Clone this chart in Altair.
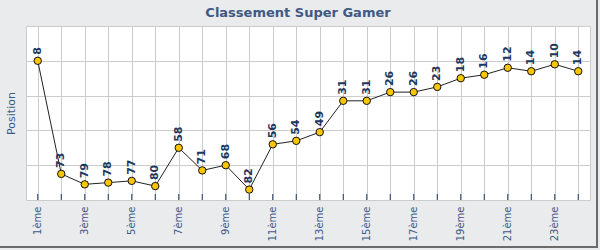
import json
import altair as alt
import pandas as pd

ranks = [f"{i}ème" for i in range(1, 25)]
positions = [8, 73, 79, 78, 77, 80, 58, 71, 68, 82, 56, 54, 49, 31, 31, 26, 26, 23, 18, 16, 12, 14, 10, 14]
shown_labels = ranks[::2]
y_grid = [8, 28, 48, 68]
y_domain = [-12, 88]
chart_title = "Classement Super Gamer"

df = pd.DataFrame({"rank": ranks, "pos": positions})

W, H = 564, 174
FONT = "DejaVu Sans"
BLUE = "#3b5a8a"
NAVY = "#1c3760"

label_expr = f"indexof({json.dumps(shown_labels)}, datum.label) >= 0 ? datum.label : ''"

x = alt.X(
    "rank:O",
    sort=ranks,
    scale=alt.Scale(type="point", padding=0.5),
    axis=alt.Axis(
        title=None, labelAngle=270, labelAlign="right", labelBaseline="middle",
        labelExpr=label_expr, labelFont=FONT, labelFontSize=10, labelColor=BLUE,
        labelPadding=6, ticks=False, domain=False, grid=True, gridColor="#cccccc",
    ),
)
y = alt.Y(
    "pos:Q",
    scale=alt.Scale(domain=y_domain, reverse=True, nice=False, zero=False),
    axis=alt.Axis(
        title="Position", titleFont=FONT, titleFontSize=11, titleFontWeight="normal",
        titleColor=BLUE, titlePadding=10, values=y_grid, labels=False, ticks=False,
        domain=False, grid=True, gridColor="#cccccc",
    ),
)

base = alt.Chart(df)

ticks = base.mark_rule(color=NAVY, strokeWidth=1).encode(
    x=alt.X("rank:O", sort=ranks, scale=alt.Scale(type="point", padding=0.5)),
    y=alt.value(H - 6), y2=alt.value(H),
)
line = base.mark_line(color="#222222", strokeWidth=1).encode(x=x, y=y)
points = base.mark_point(filled=True, fill="#f7c600", stroke="#111111", strokeWidth=1,
                         size=55, opacity=1).encode(x=x, y=y)
labels = base.mark_text(angle=270, align="left", baseline="middle", dx=6,
                        font=FONT, fontSize=11, fontWeight="bold", color=NAVY).encode(
    x=x, y=y, text=alt.Text("pos:Q"))

single = pd.DataFrame({"t": [chart_title]})
title_mark = alt.Chart(single).mark_text(
    font=FONT, fontSize=13, fontWeight="bold", color="#3f5884",
    align="center", baseline="alphabetic").encode(
    text="t:N", x=alt.value(272), y=alt.value(-9))

right_border = alt.Chart(single).mark_rule(color="#6b6b6b", strokeWidth=2).encode(
    x=alt.value(571), y=alt.value(-26), y2=alt.value(221))
bottom_border = alt.Chart(single).mark_rule(color="#6b6b6b", strokeWidth=2).encode(
    x=alt.value(-26), x2=alt.value(572), y=alt.value(221))

chart = alt.layer(line, ticks, points, labels, title_mark, right_border, bottom_border).properties(
    width=W, height=H,
    autosize=alt.AutoSizeParams(type="none"),
    padding={"left": 26, "top": 26, "right": 10, "bottom": 50},
).configure(background="#eaebec").configure_view(fill="white", stroke="#cccccc")

chart.save("out.html", embed_options={"renderer": "svg", "actions": False})
